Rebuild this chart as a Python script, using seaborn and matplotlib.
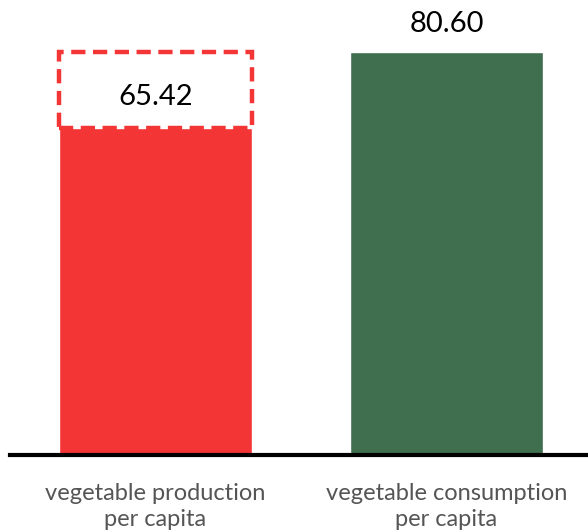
import matplotlib
matplotlib.use("Agg")
import matplotlib.pyplot as plt
import seaborn as sns
import pandas as pd
from matplotlib.patches import Rectangle

categories = ["vegetable production\nper capita", "vegetable consumption\nper capita"]
values = [65.42, 80.60]
labels = ["65.42", "80.60"]
colors = ["#F33535", "#3F6F4F"]

sns.set_style("white")
plt.rcParams['font.family'] = ['Lato', 'DejaVu Sans']

fig = plt.figure(figsize=(5.88, 5.32), dpi=100)
ax = fig.add_axes([10/588, (532-455)/532, 1 - 10/588, 455/532])

df = pd.DataFrame({"cat": categories, "val": values})
sns.barplot(data=df, x="cat", y="val", hue="cat", palette=colors, width=0.665,
            saturation=1, legend=False, ax=ax)

ax.set_xlim(-0.5, 1.486)
ax.set_ylim(0, 91)
for s in ["top", "right", "left"]:
    ax.spines[s].set_visible(False)
ax.spines["bottom"].set_linewidth(3)
ax.spines["bottom"].set_color("black")
ax.set_yticks([])
ax.set_xlabel("")
ax.set_ylabel("")
ax.tick_params(axis="x", length=0, pad=20, labelsize=17, labelcolor="#555555")
for t in ax.get_xticklabels():
    t.set_linespacing(1.3)

# gap box on first bar
w = 0.665
ax.add_patch(Rectangle((0 - w/2, values[0]), w, values[1] - values[0], fill=False,
                       edgecolor="#F33535", linewidth=3.2, linestyle=(0, (3.2, 1.7)),
                       clip_on=False))
ax.text(0, 70.0, labels[0], ha="center", va="baseline", fontsize=21, color="black")
ax.text(1, 84.6, labels[1], ha="center", va="baseline", fontsize=21, color="black")

fig.savefig("out.png", dpi=100)
